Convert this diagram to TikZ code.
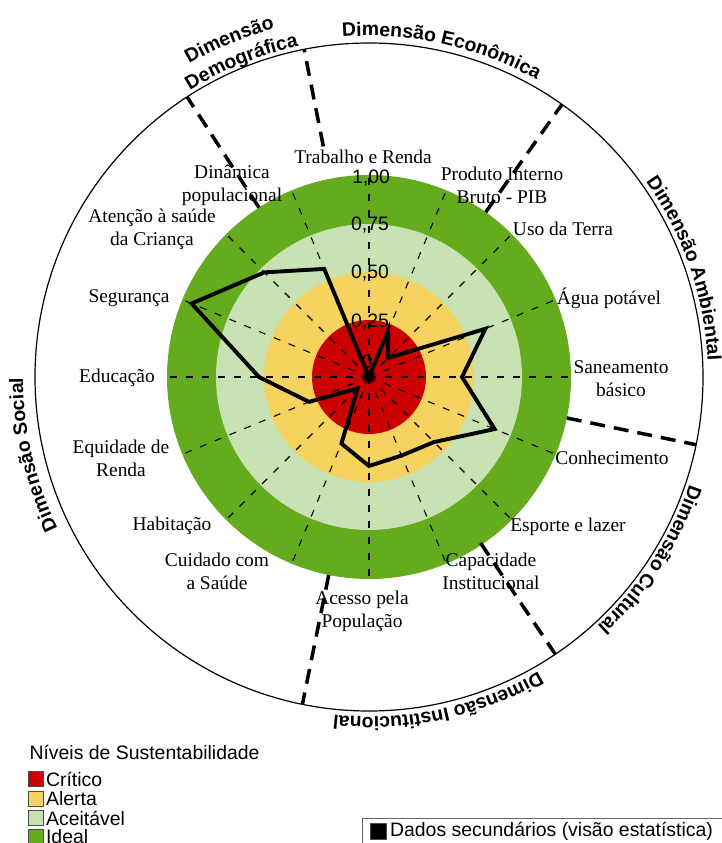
\documentclass[tikz,border=0pt]{standalone}
\usepackage{fontspec}
\setmainfont{Liberation Serif}
\setsansfont{Liberation Sans}
\usepackage{tikz}
\usetikzlibrary{decorations.text}

\definecolor{critico}{RGB}{204,0,0}
\definecolor{alerta}{RGB}{245,211,94}
\definecolor{aceitavel}{RGB}{201,226,180}
\definecolor{ideal}{RGB}{100,172,30}

\newcommand{\lblfont}{\fontsize{19.5}{23}\selectfont}
\newcommand{\dimfont}{\fontsize{19.5}{23}\selectfont\sffamily\bfseries}

\begin{document}
\begin{tikzpicture}[x=1bp,y=1bp,
    eixo/.style={draw=none, align=center, font=\lblfont},
    escala/.style={draw=none, font=\lblfont\sffamily},
    quad/.style={draw=black!70, line width=0.8bp, minimum size=15bp, inner sep=0pt},
    raio/.style={line width=1.1bp, dash pattern=on 7bp off 9bp},
    divisa/.style={line width=3.5bp, dash pattern=on 15bp off 9bp},
    dimtexto/.style={decorate, decoration={text along path, text align=center, text={#1}}}
  ]
  \useasboundingbox (-369,-466) rectangle (353,377);
  \coordinate (O) at (0,0);

  % aneis
  \fill[ideal] (O) circle (202);
  \fill[aceitavel] (O) circle (153);
  \fill[alerta] (O) circle (105);
  \fill[critico] (O) circle (57);
  \draw[line width=1.2bp] (O) circle (334);

  % raios
  \foreach \a in {0,22.5,...,337.5}
    \draw[raio] (O) -- (\a:200);

  \node[escala] (v100) at (2,199) {1,00};
  \node[escala] (v075) at (1,152) {0,75};
  \node[escala] (v050) at (1,104) {0,50};
  \node[escala] (v025) at (1,55) {0,25};
  \node[escala] (v000) at (-2,15) {0};

  % indicadores
  \node[eixo] (trab) at (-6,220) {Trabalho e Renda};
  \node[eixo] (pib) at (133,192) {Produto Interno\\Bruto - PIB};
  \node[eixo] (uso) at (194,148) {Uso da Terra};
  \node[eixo] (agua) at (240,79) {Água potável};
  \node[eixo] (san) at (252,-2) {Saneamento\\básico};
  \node[eixo] (conh) at (243,-81) {Conhecimento};
  \node[eixo] (esp) at (199,-150) {Esporte e lazer};
  \node[eixo] (cap) at (122,-194) {Capacidade\\Institucional};
  \node[eixo] (acesso) at (-7,-234) {Acesso pela\\População};
  \node[eixo] (cuid) at (-152,-194) {Cuidado com\\a Saúde};
  \node[eixo] (hab) at (-197,-149) {Habitação};
  \node[eixo] (equi) at (-248,-81) {Equidade de\\Renda};
  \node[eixo] (edu) at (-252,-1) {Educação};
  \node[eixo] (seg) at (-240,79) {Segurança};
  \node[eixo] (aten) at (-217,148) {Atenção à saúde\\da Criança};
  \node[eixo] (din) at (-137,192) {Dinâmica\\populacional};

  % dados secundarios
  \draw[line width=3.9bp] (O) -- (67.5:50) -- (45:27) -- (22.5:126) -- (0:93)
    -- (-22.5:136) -- (-45:92) -- (-67.5:85) -- (-90:89) -- (-112.5:72)
    -- (-135:16) -- (-157.5:65) -- (180:110) -- (157.5:192) -- (135:148)
    -- (112.5:117) -- cycle;
  \fill (O) circle (4);

  % dimensoes
  \foreach \a/\r in {101.2/235, 123/202, 54.7/202, -11.7/202, -56.1/200, -101.5/202}
    \draw[divisa] (\a:\r) -- (\a:334);

  \path[dimtexto={|\dimfont|Dimensão Econômica}] (112:341) arc[start angle=112, end angle=43, radius=341];
  \path[dimtexto={|\dimfont|Dimensão Ambiental}] (55:339) arc[start angle=55, end angle=-17, radius=339];
  \path[dimtexto={|\dimfont|Dimensão Cultural}] (3:338) arc[start angle=3, end angle=-69, radius=338];
  \path[dimtexto={|\dimfont|Dimensão Institucional}] (-42:340) arc[start angle=-42, end angle=-114, radius=340];
  \path[dimtexto={|\dimfont|Dimensão Social}] (229:346) arc[start angle=229, end angle=157, radius=346];
  \path[dimtexto={|\dimfont|Dimensão}] (140:361) arc[start angle=140, end angle=85, radius=361];
  \path[dimtexto={|\dimfont|Demográfica}] (150:338) arc[start angle=150, end angle=74, radius=338];

  % legenda
  \node[escala, anchor=west] (niveis) at (-343,-375) {Níveis de Sustentabilidade};
  \node[quad, fill=critico] (qcrit) at (-333,-402) {};
  \node[quad, fill=alerta] (qalert) at (-333,-422) {};
  \node[quad, fill=aceitavel] (qaceit) at (-333,-441) {};
  \node[quad, fill=ideal] (qideal) at (-333,-460) {};
  \node[escala, anchor=west, inner sep=2bp] (tcrit) at (qcrit.east) {Crítico};
  \node[escala, anchor=west, inner sep=2bp] (talert) at (qalert.east) {Alerta};
  \node[escala, anchor=west, inner sep=2bp] (taceit) at (qaceit.east) {Aceitável};
  \node[escala, anchor=west, inner sep=2bp] (tideal) at (qideal.east) {Ideal};

  \draw[black!60, line width=1bp] (-7,-441) rectangle (360,-480);
  \node[quad, fill=black, minimum size=16bp] (qdados) at (9.5,-454) {};
  \node[escala, anchor=west, inner sep=3bp] (tdados) at (qdados.east) {Dados secundários (visão estatística)};
\end{tikzpicture}
\end{document}
